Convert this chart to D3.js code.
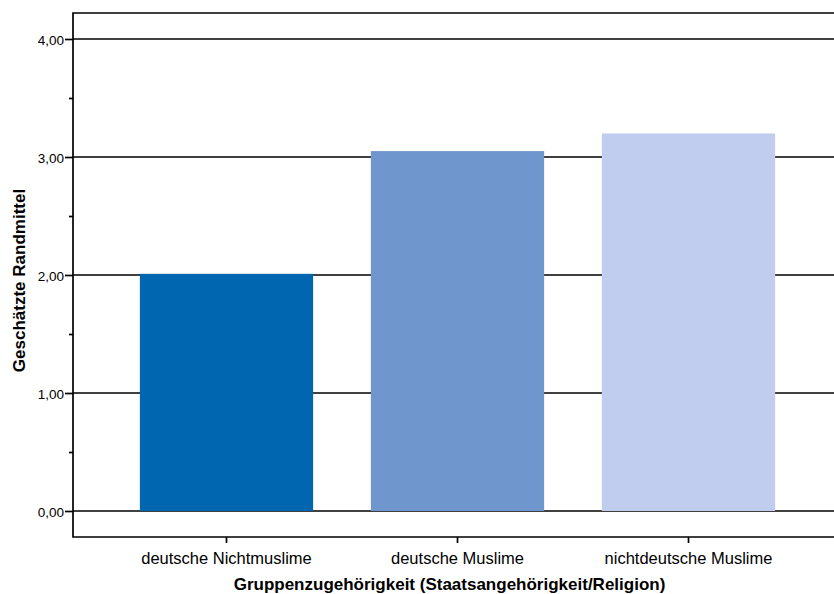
<!DOCTYPE html>
<html><head><meta charset="utf-8">
<script src="https://cdn.jsdelivr.net/npm/d3@7"></script>
<style>body{margin:0;background:#fff}svg{display:block}text{font-family:"Liberation Sans",Arial,sans-serif}</style>
</head><body>
<svg id="c" width="834" height="594"></svg>
<script>
const categories = ["deutsche Nichtmuslime", "deutsche Muslime", "nichtdeutsche Muslime"];
const values = [2.01, 3.05, 3.20];
const colors = ["#0066b0", "#6f96cd", "#c1cdee"];
const yTicks = [0, 1, 2, 3, 4];
const yMinorTicks = [0.5, 1.5, 2.5, 3.5];
const yTitle = "Geschätzte Randmittel";
const xTitle = "Gruppenzugehörigkeit (Staatsangehörigkeit/Religion)";

(function () {
const svg = d3.select("#c");
const pL = 73, pR = 841, pT = 13, pB = 537;
const FF = "'Liberation Sans', Arial, sans-serif";
const y = d3.scaleLinear().domain([0, 4]).range([511, 39]);
const x = d3.scaleBand().domain(categories).range([111, 804]).paddingInner(0.25).paddingOuter(0.125);

// gridlines
svg.append("g").selectAll("line").data(yTicks).join("line")
  .attr("x1", pL).attr("x2", pR)
  .attr("y1", d => y(d)).attr("y2", d => y(d))
  .attr("stroke", "#000").attr("stroke-width", 1.7);

// bars
svg.append("g").selectAll("rect").data(values).join("rect")
  .attr("x", (d, i) => x(categories[i]))
  .attr("width", x.bandwidth())
  .attr("y", d => y(d))
  .attr("height", d => y(0) - y(d))
  .attr("fill", (d, i) => colors[i]);

// frame
svg.append("path")
  .attr("d", `M${pR},${pT}H${pL}V${pB}H${pR}`)
  .attr("fill", "none").attr("stroke", "#000").attr("stroke-width", 1.7);

// y axis
const yAxis = d3.axisLeft(y).tickValues(yTicks).tickSize(8).tickPadding(1)
  .tickFormat(d => d3.format(".2f")(d).replace(".", ","));
const ga = svg.append("g").attr("transform", `translate(${pL},0)`).call(yAxis);
ga.select(".domain").remove();
ga.selectAll(".tick line").attr("stroke-width", 1.7);
ga.selectAll(".tick text").attr("font-size", 13.5).attr("fill", "#000")
  .attr("font-family", FF).attr("dy", "0.42em");
const gm = svg.append("g").attr("transform", `translate(${pL},0)`)
  .call(d3.axisLeft(y).tickValues(yMinorTicks).tickSize(4).tickFormat(""));
gm.select(".domain").remove();
gm.selectAll(".tick line").attr("stroke-width", 1.7);

// x axis
const xAxis = d3.axisBottom(x).tickSize(6).tickPadding(9);
const gx = svg.append("g").attr("transform", `translate(0,${pB})`).call(xAxis);
gx.select(".domain").remove();
gx.selectAll(".tick line").attr("stroke-width", 1.7);
gx.selectAll(".tick text").attr("font-size", 16.5).attr("fill", "#000")
  .attr("font-family", FF);

// titles
svg.append("text").attr("transform", `translate(25,280.5) rotate(-90)`)
  .attr("text-anchor", "middle").attr("font-size", 17).attr("font-weight", "bold").text(yTitle);
svg.append("text").attr("x", 449.5).attr("y", 590)
  .attr("text-anchor", "middle").attr("font-size", 17).attr("font-weight", "bold").text(xTitle);
})();
</script>
</body></html>
